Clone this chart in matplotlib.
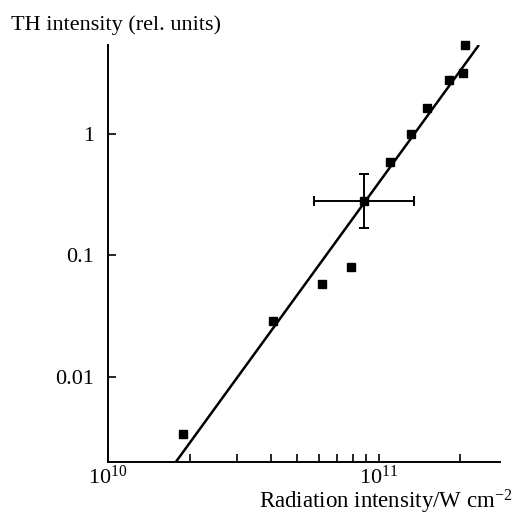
import matplotlib
matplotlib.use("Agg")
import matplotlib.pyplot as plt
from matplotlib.ticker import FixedLocator, FixedFormatter, NullLocator

plt.rcParams['font.family'] = ['Liberation Serif', 'DejaVu Serif']
plt.rcParams['mathtext.fontset'] = 'custom'
plt.rcParams['mathtext.rm'] = 'Liberation Serif'
plt.rcParams['mathtext.it'] = 'Liberation Serif:italic'

# Data
radiation = [1.89e10, 4.05e10, 6.16e10, 7.86e10, 8.84e10, 1.095e11,
             1.309e11, 1.50e11, 1.81e11, 2.04e11, 2.08e11]
th_intensity = [0.00338, 0.0287, 0.0583, 0.081, 0.281, 0.588,
                1.0, 1.62, 2.77, 3.19, 5.37]

# point with error bars
err_x = [8.84e10]
err_y = [0.281]
err_x_low = [3.06e10]
err_x_high = [4.62e10]
err_y_low = [0.112]
err_y_high = [0.188]

# fitted line endpoints
fit_x = [1.78e10, 2.34e11]
fit_y = [0.002, 5.37]

x_major = [1e10, 1e11]
x_major_labels = [r'$10^{10}$', r'$10^{11}$']
x_minor = [2e10, 3e10, 4e10, 5e10, 6e10, 7e10, 8e10, 9e10, 2e11]
y_major = [0.01, 0.1, 1]
y_major_labels = ['0.01', '0.1', '1']

fig = plt.figure(figsize=(5.17, 5.16), dpi=100)
ax = fig.add_axes([108/517, 1-462/516, (500-108)/517, (462-45)/516])

ax.plot(fit_x, fit_y, color='black', lw=1.8, solid_capstyle='butt')
ax.plot(radiation, th_intensity, linestyle='none', marker='s', ms=6,
        color='black', clip_on=False, zorder=3)
ax.errorbar(err_x, err_y, xerr=[err_x_low, err_x_high],
            yerr=[err_y_low, err_y_high], fmt='none', ecolor='black',
            elinewidth=1.4, capsize=3.5, capthick=1.4)

ax.set_xscale('log')
ax.set_yscale('log')
ax.set_xlim(1e10, 2.8e11)
ax.set_ylim(0.002, 5.37)

ax.xaxis.set_major_locator(FixedLocator(x_major))
ax.xaxis.set_major_formatter(FixedFormatter(x_major_labels))
ax.xaxis.set_minor_locator(FixedLocator(x_minor))
ax.yaxis.set_major_locator(FixedLocator(y_major))
ax.yaxis.set_major_formatter(FixedFormatter(y_major_labels))
ax.yaxis.set_minor_locator(NullLocator())

for s in ['top', 'right']:
    ax.spines[s].set_visible(False)
for s in ['left', 'bottom']:
    ax.spines[s].set_linewidth(1.4)

ax.tick_params(axis='x', which='both', direction='in', length=6,
               width=1.2, labelsize=16, pad=2.5)
ax.tick_params(axis='y', which='major', direction='in', length=6,
               width=1.2, labelsize=16, pad=10)

fig.text(11/517, 1-30/516, 'TH intensity (rel. units)', fontsize=16,
         ha='left', va='baseline')
fig.text(512/517, 1-509/516, r'Radiation intensity$/$W cm$^{-2}$',
         fontsize=16.5, ha='right', va='baseline')

fig.savefig('out.png', dpi=100)
